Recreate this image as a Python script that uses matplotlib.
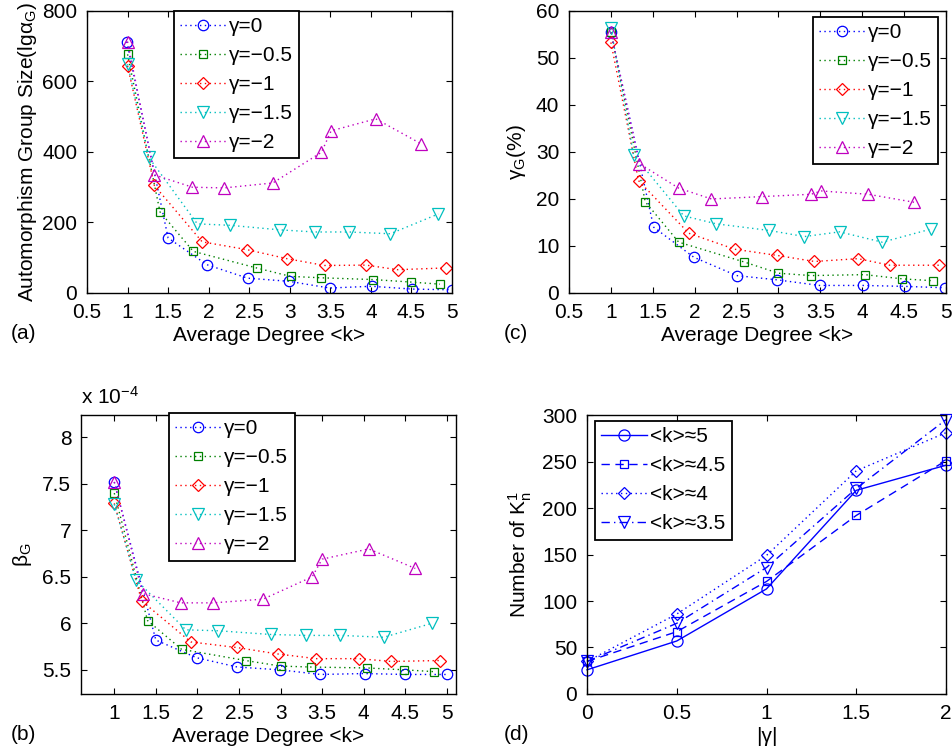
import numpy as np
import matplotlib
matplotlib.use('Agg')
from matplotlib import pyplot as plt

plt.rcParams['font.family'] = ['Liberation Sans', 'DejaVu Sans']
plt.rcParams['mathtext.fontset'] = 'custom'
plt.rcParams['mathtext.rm'] = 'Liberation Sans'
plt.rcParams['mathtext.default'] = 'regular'
plt.rcParams['axes.unicode_minus'] = True

# ---- data ----
gamma_labels = ['γ=0', 'γ=−0.5', 'γ=−1', 'γ=−1.5', 'γ=−2']

# (a) automorphism group size, x = average degree
a_x0 = [0.99, 1.50, 1.98, 2.48, 2.99, 3.49, 4.01, 4.51, 5.00]
a_y0 = [713, 156, 80, 42, 33, 14, 19, 11, 9]
a_x1 = [1.00, 1.40, 1.81, 2.59, 3.01, 3.39, 4.03, 4.49, 4.85]
a_y1 = [677, 230, 118, 71, 47, 43, 38, 31, 25]
a_x2 = [1.00, 1.33, 1.92, 2.47, 2.97, 3.43, 3.94, 4.33, 4.92]
a_y2 = [644, 305, 145, 123, 97, 78, 79, 66, 71]
a_x3 = [1.00, 1.26, 1.86, 2.26, 2.88, 3.31, 3.73, 4.24, 4.83]
a_y3 = [649, 385, 196, 192, 179, 173, 173, 168, 224]
a_x4 = [1.00, 1.33, 1.80, 2.19, 2.79, 3.39, 3.51, 4.06, 4.62]
a_y4 = [713, 335, 300, 298, 312, 399, 460, 494, 423]

# (b) beta_G (units of 1e-4)
b_x0 = [1.00, 1.50, 1.99, 2.48, 2.99, 3.48, 4.01, 4.50, 5.00]
b_y0 = [7.52, 5.82, 5.63, 5.53, 5.50, 5.45, 5.46, 5.45, 5.45]
b_x1 = [1.00, 1.40, 1.81, 2.58, 3.00, 3.37, 4.04, 4.49, 4.85]
b_y1 = [7.40, 6.03, 5.72, 5.60, 5.54, 5.53, 5.52, 5.50, 5.48]
b_x2 = [1.00, 1.33, 1.92, 2.47, 2.97, 3.43, 3.94, 4.33, 4.92]
b_y2 = [7.29, 6.24, 5.80, 5.74, 5.67, 5.62, 5.62, 5.59, 5.60]
b_x3 = [1.00, 1.26, 1.86, 2.25, 2.88, 3.30, 3.72, 4.24, 4.82]
b_y3 = [7.28, 6.47, 5.93, 5.92, 5.88, 5.87, 5.87, 5.85, 6.00]
b_x4 = [1.00, 1.34, 1.80, 2.19, 2.79, 3.38, 3.50, 4.06, 4.62]
b_y4 = [7.52, 6.32, 6.22, 6.22, 6.26, 6.50, 6.69, 6.80, 6.59]

# (c) gamma_G (%)
c_x0 = [1.00, 1.51, 1.99, 2.50, 2.98, 3.49, 4.01, 4.51, 4.99]
c_y0 = [55.5, 14.0, 7.6, 3.7, 2.8, 1.6, 1.6, 1.4, 1.1]
c_x1 = [1.00, 1.41, 1.81, 2.59, 3.00, 3.39, 4.03, 4.48, 4.85]
c_y1 = [55.5, 19.4, 10.8, 6.6, 4.2, 3.7, 3.9, 3.0, 2.6]
c_x2 = [1.00, 1.33, 1.93, 2.48, 2.98, 3.43, 3.95, 4.33, 4.92]
c_y2 = [53.3, 23.9, 12.7, 9.3, 8.0, 6.7, 7.3, 5.9, 5.9]
c_x3 = [1.00, 1.27, 1.87, 2.26, 2.89, 3.31, 3.73, 4.24, 4.82]
c_y3 = [56.3, 29.4, 16.4, 14.7, 13.3, 12.0, 13.0, 10.8, 13.6]
c_x4 = [1.00, 1.34, 1.81, 2.20, 2.80, 3.39, 3.51, 4.07, 4.62]
c_y4 = [55.5, 27.5, 22.3, 20.0, 20.5, 21.0, 21.7, 21.0, 19.3]

# (d) number of K_n^1 vs |gamma|
d_x = [0, 0.5, 1, 1.5, 2]
d_labels = ['<k>≈5', '<k>≈4.5', '<k>≈4', '<k>≈3.5']
d_k5 = [26, 57, 113, 219, 246]
d_k45 = [35, 67, 121, 192, 251]
d_k4 = [35, 86, 149, 240, 281]
d_k35 = [35, 76, 136, 221, 295]

colors = ['#0000ff', '#008000', '#ff0000', '#00bfbf', '#bf00bf']
markers = ['o', 's', 'D', 'v', '^']
msizes = [7.5, 6, 6, 8, 8]

fig = plt.figure(figsize=(9.52, 7.51), dpi=100)
ax_a = fig.add_axes([0.0914, 0.6099, 0.3834, 0.3755])
ax_c = fig.add_axes([0.5977, 0.6099, 0.3960, 0.3755])
ax_b = fig.add_axes([0.0851, 0.0759, 0.3939, 0.3715])
ax_d = fig.add_axes([0.6166, 0.0759, 0.3771, 0.3715])

FS = 15


def style(ax):
    ax.tick_params(direction='in', top=True, right=True, length=4, width=0.8,
                   labelsize=FS, pad=7)
    for s in ax.spines.values():
        s.set_linewidth(1.0)


def gamma_panel(ax, xs, ys):
    for i in range(5):
        ax.plot(xs[i], ys[i], linestyle=(0, (1, 2.5)), lw=1.0, color=colors[i],
                marker=markers[i], ms=msizes[i], mfc='none', mec=colors[i], mew=0.9,
                label=gamma_labels[i])
    style(ax)
    ax.set_xlabel('Average Degree <k>', fontsize=FS, labelpad=3)


def legend(ax, anchor, loc):
    lg = ax.legend(loc=loc, bbox_to_anchor=anchor, fontsize=FS, frameon=True,
                   fancybox=False, framealpha=1, edgecolor='black',
                   borderaxespad=0, handlelength=2.2, handletextpad=0.15,
                   labelspacing=0.48, borderpad=0.3)
    lg.get_frame().set_linewidth(1.3)
    return lg


gamma_panel(ax_a, [a_x0, a_x1, a_x2, a_x3, a_x4], [a_y0, a_y1, a_y2, a_y3, a_y4])
ax_a.set_xlim(0.5, 5)
ax_a.set_ylim(0, 800)
ax_a.set_xticks(np.arange(0.5, 5.01, 0.5))
ax_a.set_xticklabels(['0.5', '1', '1.5', '2', '2.5', '3', '3.5', '4', '4.5', '5'])
ax_a.set_yticks([0, 200, 400, 600, 800])
ax_a.set_ylabel('Automorphism Group Size(lgα$_{G}$)', fontsize=FS, labelpad=2)
legend(ax_a, (0.238, 1.0), 'upper left')

gamma_panel(ax_c, [c_x0, c_x1, c_x2, c_x3, c_x4], [c_y0, c_y1, c_y2, c_y3, c_y4])
ax_c.set_xlim(0.5, 5)
ax_c.set_ylim(0, 60)
ax_c.set_xticks(np.arange(0.5, 5.01, 0.5))
ax_c.set_xticklabels(['0.5', '1', '1.5', '2', '2.5', '3', '3.5', '4', '4.5', '5'])
ax_c.set_yticks(np.arange(0, 61, 10))
ax_c.set_ylabel('γ$_{G}$(%)', fontsize=FS, labelpad=6)
legend(ax_c, (0.979, 0.979), 'upper right')

gamma_panel(ax_b, [b_x0, b_x1, b_x2, b_x3, b_x4], [b_y0, b_y1, b_y2, b_y3, b_y4])
ax_b.set_xlim(0.6, 5.11)
ax_b.set_ylim(5.24, 8.24)
ax_b.set_xticks(np.arange(1, 5.01, 0.5))
ax_b.set_xticklabels(['1', '1.5', '2', '2.5', '3', '3.5', '4', '4.5', '5'])
ax_b.set_yticks([5.5, 6, 6.5, 7, 7.5, 8])
ax_b.set_yticklabels(['5.5', '6', '6.5', '7', '7.5', '8'])
ax_b.set_ylabel('β$_{G}$', fontsize=FS, labelpad=6)
ax_b.text(0.0, 1.025, 'x 10$^{-4}$', transform=ax_b.transAxes, fontsize=FS,
          ha='left', va='bottom')
legend(ax_b, (0.235, 1.007), 'upper left')

d_series = [d_k5, d_k45, d_k4, d_k35]
d_styles = ['-', (0, (6, 4)), (0, (1, 2.5)), (0, (6, 3, 1, 3))]
d_markers = ['o', 's', 'D', 'v']
d_ms = [8, 6, 6.5, 8.5]
for i in range(4):
    ax_d.plot(d_x, d_series[i], linestyle=d_styles[i], lw=1.0, color='#0000ff',
              marker=d_markers[i], ms=d_ms[i], mfc='none', mec='#0000ff', mew=0.9,
              label=d_labels[i], clip_on=False)
style(ax_d)
ax_d.set_xlim(0, 2)
ax_d.set_ylim(0, 300)
ax_d.set_xticks([0, 0.5, 1, 1.5, 2])
ax_d.set_xticklabels(['0', '0.5', '1', '1.5', '2'])
ax_d.set_yticks(np.arange(0, 301, 50))
ax_d.set_xlabel('|γ|', fontsize=FS, labelpad=3)
ax_d.set_ylabel('Number of K$_{n}^{1}$', fontsize=FS, labelpad=6)
legend(ax_d, (0.022, 0.978), 'upper left')

for lab, x, y in [('(a)', 0.011, 1 - 333 / 751), ('(c)', 0.529, 1 - 333 / 751),
                  ('(b)', 0.011, 1 - 735 / 751), ('(d)', 0.529, 1 - 735 / 751)]:
    fig.text(x, y, lab, fontsize=FS, ha='left', va='center')

fig.savefig('out.png', dpi=100)
